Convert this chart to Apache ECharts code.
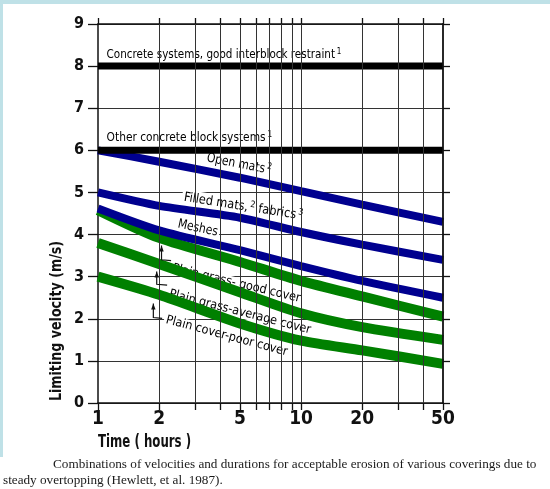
<!DOCTYPE html>
<html>
<head>
<meta charset="utf-8">
<script src="https://cdn.jsdelivr.net/npm/echarts@6/dist/echarts.min.js"></script>
<style>
  html, body { margin: 0; padding: 0; background: #fff; }
  #wrap { position: relative; width: 550px; height: 489px; overflow: hidden; background: #fff; }
  #chart { position: absolute; left: 0; top: 0; width: 550px; height: 489px; }
  .band-top { position: absolute; left: 0; top: 0; width: 550px; height: 4px; background: #bfe1e7; }
  .band-left { position: absolute; left: 0; top: 0; width: 3px; height: 457px; background: #bfe1e7; }
</style>
</head>
<body>
<div id="wrap">
  <div id="chart"></div>
  <div class="band-top"></div>
  <div class="band-left"></div>
</div>
<script>
// Time (hours) at which each limiting velocity is read
const hours = [1, 2, 5, 10, 20, 50];

// Limiting velocity (m/s) for each covering
const openMats     = [6.0, 5.73, 5.35, 5.03, 4.71, 4.30];
const filledMats   = [5.0, 4.68, 4.40, 4.06, 3.76, 3.40];
const meshes       = [4.62, 4.10, 3.63, 3.25, 2.90, 2.50];
const grassGood    = [4.58, 3.92, 3.35, 2.90, 2.53, 2.05];
const grassAverage = [3.80, 3.30, 2.63, 2.13, 1.80, 1.50];
const grassPoor    = [3.00, 2.57, 1.89, 1.48, 1.25, 0.93];

// Concrete block systems: constant over the whole duration
const concreteHours = [1, 50];
const concreteGood  = [8, 8];
const concreteOther = [6, 6];

// Axis ticks
const xLabelValues = [1, 2, 5, 10, 20, 50];
const xTickValues  = [1, 2, 3, 4, 5, 6, 7, 8, 9, 10, 20, 30, 40, 50];
const xGridValues  = [2, 3, 4, 5, 6, 7, 8, 9, 10, 20, 30, 40];

const NARROW = "'DejaVu Sans Condensed','Liberation Sans Narrow',sans-serif";
const INK = '#111';
const BLUE = '#00008f';
const GREEN = '#008000';

function pairs(xs, ys) { return xs.map((x, i) => [x, ys[i]]); }

function curve(name, values, color, width) {
  return {
    name, type: 'line', data: pairs(hours, values),
    smooth: 0.25,
    symbol: 'none', silent: true, z: 3,
    lineStyle: { color, width, cap: 'butt' }
  };
}

function flat(name, values) {
  return {
    name, type: 'line', data: pairs(concreteHours, values),
    symbol: 'none', silent: true, z: 3,
    lineStyle: { color: '#000', width: 7, cap: 'butt' }
  };
}

const chart = echarts.init(document.getElementById('chart'), null, { renderer: 'canvas' });

const logAxisBase = {
  type: 'log', logBase: 10, min: 1, max: 50, z: 4,
  axisLine: { show: true, onZero: false, lineStyle: { color: INK, width: 1.5 } },
  splitLine: { show: false },
  minorTick: { show: false },
  minorSplitLine: { show: false }
};

chart.setOption({
  animation: false,
  backgroundColor: '#fff',
  grid: { left: 98, top: 24, width: 345, height: 379, containLabel: false },
  xAxis: [
    Object.assign({}, logAxisBase, {
      position: 'bottom',
      axisTick: { show: true, length: 7, customValues: xTickValues, lineStyle: { color: INK, width: 1.3 } },
      axisLabel: {
        customValues: xLabelValues, margin: 7, color: INK,
        fontFamily: NARROW, fontWeight: 'bold', fontSize: 19
      }
    }),
    Object.assign({}, logAxisBase, {
      position: 'top',
      axisTick: { show: true, length: 6, customValues: xTickValues, lineStyle: { color: INK, width: 1.3 } },
      axisLabel: { show: false }
    })
  ],
  yAxis: [
    {
      type: 'value', min: 0, max: 9, interval: 1, position: 'left', z: 0,
      axisLine: { show: true, lineStyle: { color: INK, width: 1.5 } },
      axisTick: { show: true, length: 10, lineStyle: { color: INK, width: 1.3 } },
      axisLabel: {
        margin: 14, color: INK, fontFamily: NARROW, fontWeight: 'bold', fontSize: 16,
        padding: [0, 0, 8, 0]
      },
      splitLine: { show: true, lineStyle: { color: '#333', width: 1 } }
    },
    {
      type: 'value', min: 0, max: 9, interval: 1, position: 'right', z: 4,
      axisLine: { show: true, lineStyle: { color: INK, width: 1.8 } },
      axisTick: { show: true, length: 7, lineStyle: { color: INK, width: 1.3 } },
      axisLabel: { show: false },
      splitLine: { show: false }
    }
  ],
  series: [
    {
      name: 'grid', type: 'line', data: [], silent: true, z: 1,
      markLine: {
        silent: true, symbol: 'none', animation: false,
        label: { show: false },
        lineStyle: { color: '#333', width: 1, type: 'solid' },
        data: xGridValues.map(v => ({ xAxis: v }))
      }
    },
    curve('Plain grass - poor cover', grassPoor, GREEN, 10),
    curve('Plain grass - average cover', grassAverage, GREEN, 10),
    curve('Plain grass - good cover', grassGood, GREEN, 10),
    curve('Meshes', meshes, BLUE, 8),
    curve('Filled mats, fabrics', filledMats, BLUE, 8),
    curve('Open mats', openMats, BLUE, 8),
    flat('Other concrete block systems', concreteOther),
    flat('Concrete systems, good interblock restraint', concreteGood)
  ]
});

// Annotations placed in data coordinates and converted to pixels
const labelRich = {
  t: { fontFamily: NARROW, fontSize: 13, color: INK, lineHeight: 16 },
  u: { fontFamily: NARROW, fontSize: 12.5, color: INK, lineHeight: 12 },
  s: { fontFamily: NARROW, fontSize: 9, color: INK, verticalAlign: 'top', lineHeight: 16, padding: [0, 0, 6, 2] }
};

const notes = [
  { at: [1.08, 8.27], text: '{t|Concrete systems, good interblock restraint}{s|1}', align: 'left', angle: 0, squeeze: 0.89 },
  { at: [1.08, 6.29], text: '{t|Other concrete block systems}{s|1}', align: 'left', angle: 0, squeeze: 0.91 },
  { at: [4.95, 5.67], text: '{t|Open mats}{s|2}', align: 'center', angle: -11, squeeze: 0.92 },
  { at: [5.2, 4.66], text: '{t|Filled mats,}{s|2}{t| fabrics}{s|3}', align: 'center', angle: -9, squeeze: 0.97 },
  { at: [3.1, 4.15], text: '{t|Meshes}', align: 'center', angle: -12, squeeze: 0.92 },
  { at: [4.8, 2.84], text: '{u|Plain grass- good cover}', align: 'center', angle: -13.5, squeeze: 1.0 },
  { at: [5.0, 2.16], text: '{u|Plain grass-average cover}', align: 'center', angle: -14.5, squeeze: 1.0 },
  { at: [4.3, 1.59], text: '{u|Plain cover-poor cover}', align: 'center', angle: -15, squeeze: 1.0 }
];

// Leader arrows: tip, bend, end (data coordinates)
const leaders = [
  [[2.055, 3.74], [2.055, 3.40], [2.29, 3.38]],
  [[1.946, 3.12], [1.946, 2.82], [2.19, 2.80]],
  [[1.873, 2.36], [1.873, 2.03], [2.07, 2.01]]
];

function px(p) { return chart.convertToPixel({ gridIndex: 0 }, p); }

const graphics = [];

// Label boxes sit above the grid lines but beneath the curves
notes.forEach(n => {
  const p = px(n.at);
  graphics.push({
    type: 'text', x: p[0], y: p[1], rotation: n.angle * Math.PI / 180,
    scaleX: n.squeeze, z: 2, silent: true,
    style: {
      text: n.text, rich: labelRich, align: n.align, verticalAlign: 'middle',
      backgroundColor: '#fff', padding: [0, 2]
    }
  });
});

leaders.forEach(l => {
  const pts = l.map(px);
  graphics.push({
    type: 'polyline', z: 5, silent: true,
    shape: { points: pts },
    style: { stroke: INK, lineWidth: 1.2, fill: null }
  });
  const t = pts[0];
  graphics.push({
    type: 'polygon', z: 5, silent: true,
    shape: { points: [[t[0], t[1]], [t[0] - 2.2, t[1] + 6], [t[0] + 2.2, t[1] + 6]] },
    style: { fill: INK }
  });
});

// Axis titles and caption
graphics.push({
  type: 'text', x: 57, y: 321, rotation: Math.PI / 2, scaleX: 0.88, z: 5, silent: true,
  style: {
    text: 'Limiting velocity (m/s)', fontFamily: NARROW, fontWeight: 'bold', fontSize: 16,
    fill: INK, align: 'center', verticalAlign: 'middle'
  }
});
graphics.push({
  type: 'text', x: 98, y: 443, scaleX: 0.77, z: 5, silent: true,
  style: {
    text: 'Time ( hours )', fontFamily: NARROW, fontWeight: 'bold', fontSize: 17,
    fill: INK, align: 'left', verticalAlign: 'middle'
  }
});
graphics.push({
  type: 'text', x: 53, y: 465, z: 5, silent: true,
  style: {
    text: 'Combinations of velocities and durations for acceptable erosion of various coverings due to',
    fontFamily: "'Liberation Serif','Times New Roman',serif", fontSize: 13.2,
    fill: '#1a1a1a', align: 'left', verticalAlign: 'middle'
  }
});
graphics.push({
  type: 'text', x: 3, y: 481, z: 5, silent: true,
  style: {
    text: 'steady overtopping (Hewlett, et al. 1987).',
    fontFamily: "'Liberation Serif','Times New Roman',serif", fontSize: 13.2,
    fill: '#1a1a1a', align: 'left', verticalAlign: 'middle'
  }
});

chart.setOption({ graphic: graphics });
</script>
</body>
</html>
